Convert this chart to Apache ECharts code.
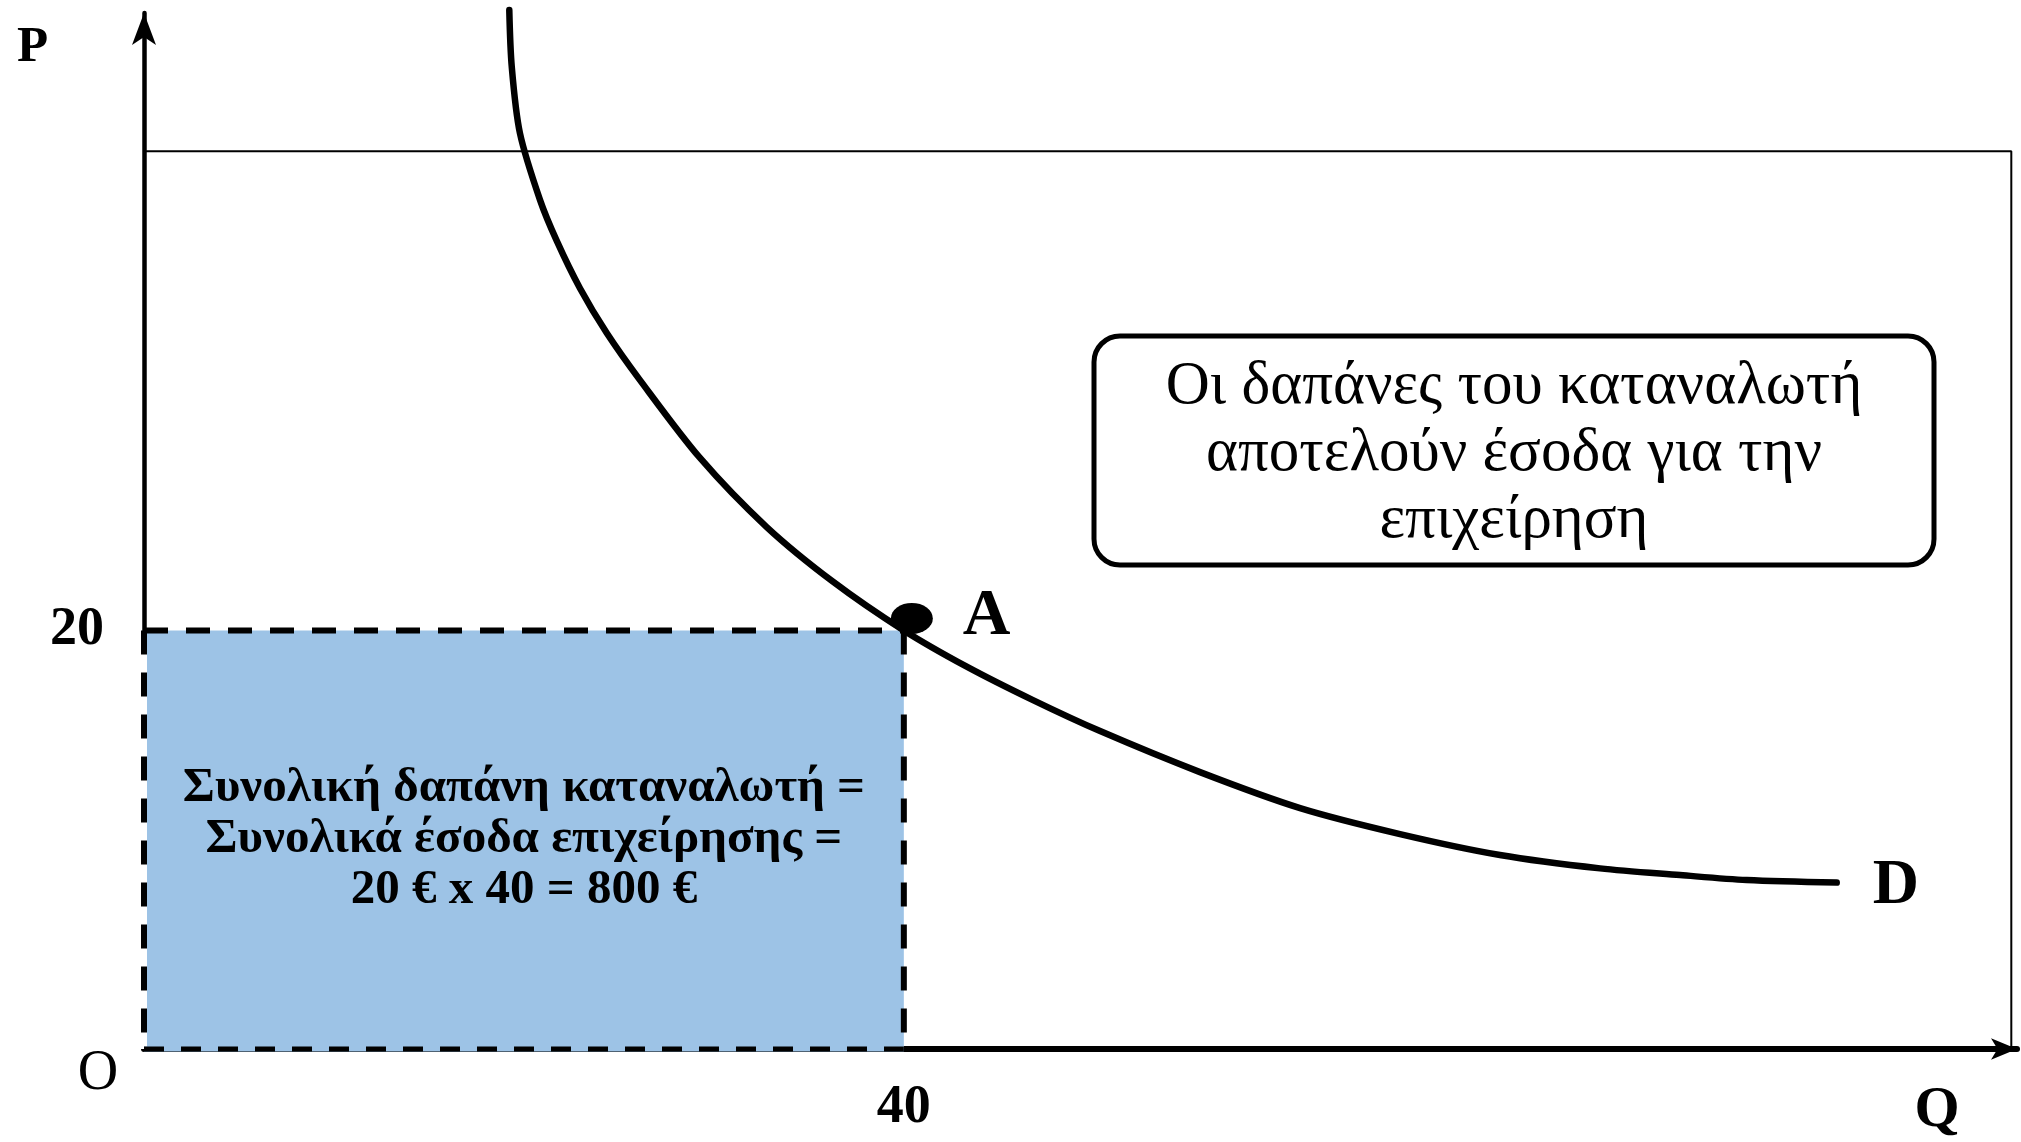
<!DOCTYPE html>
<html>
<head>
<meta charset="utf-8">
<script src="https://cdn.jsdelivr.net/npm/echarts@6/dist/echarts.min.js"></script>
<style>
  html, body { margin: 0; padding: 0; background: #ffffff; }
  #chart { width: 2021px; height: 1142px; }
</style>
</head>
<body>
<div id="chart"></div>
<script>
// Demand curve D: quantity (Q) and price (P) pairs
const demandQ = [19.23, 19.36, 19.79, 20.85, 21.73, 22.95, 24.36, 26.11, 29.27, 32.78, 36.27, 40,
                 43.31, 46.8, 50.33, 55.59, 60.86, 66.12, 71.38, 76.65, 80.86, 84.37, 89.11];
const demandP = [49.64, 46.93, 43.76, 40.56, 38.61, 36.35, 34.21, 31.96, 28.24, 24.94, 22.33, 20,
                 18.27, 16.67, 15.19, 13.23, 11.51, 10.27, 9.27, 8.63, 8.31, 8.07, 7.95];

// Point A on the demand curve: [quantity, price]
const pointA = [40, 20];

// Tick labels shown on each axis
const qTicks = [40];
const pTicks = [20];

// Axis extents and the thin plot frame
const qMax = 98.6;
const pMax = 49.5;
const frameQ = 98.3;
const frameP = 42.9;

// Texts
const boxLines = ['Οι δαπάνες του καταναλωτή', 'αποτελούν έσοδα για την', 'επιχείρηση'];
const areaLines = [
  'Συνολική δαπάνη καταναλωτή =',
  'Συνολικά έσοδα επιχείρησης =',
  pointA[1] + ' € x ' + pointA[0] + ' = ' + (pointA[0] * pointA[1]) + ' €'
];

const SERIF = "'Liberation Serif', 'DejaVu Serif', serif";
const BLUE = '#9DC3E6';

const chart = echarts.init(document.getElementById('chart'), null, { renderer: 'canvas' });

// Total-expenditure rectangle under point A, with dashed outline and caption
function renderArea(params, api) {
  const tl = api.coord([api.value(0), api.value(1)]);
  const br = api.coord([api.value(2), api.value(3)]);
  const x = tl[0], y = tl[1], w = br[0] - tl[0], h = br[1] - tl[1];
  const dash = { stroke: '#000', lineWidth: 6, lineDash: [24, 18] };
  return {
    type: 'group',
    children: [
      { type: 'rect', shape: { x: x, y: y, width: w, height: h }, style: { fill: BLUE } },
      // gaps of the left and bottom edges show through over the axis lines
      { type: 'line', shape: { x1: x, y1: y + 3, x2: x, y2: y + h }, style: { stroke: '#fff', lineWidth: 6 } },
      { type: 'line', shape: { x1: x, y1: y + h, x2: x + w, y2: y + h }, style: { stroke: BLUE, lineWidth: 5 } },
      { type: 'line', shape: { x1: x, y1: y, x2: x + w, y2: y }, style: dash },
      { type: 'line', shape: { x1: x + w, y1: y, x2: x + w, y2: y + h }, style: dash },
      { type: 'line', shape: { x1: x, y1: y, x2: x, y2: y + h }, style: dash },
      { type: 'line', shape: { x1: x, y1: y + h, x2: x + w, y2: y + h }, style: { stroke: '#000', lineWidth: 5, lineDash: [20, 17] } },
      {
        type: 'text',
        x: x + w / 2,
        y: y + h / 2,
        style: {
          text: areaLines.join('\n'),
          fill: '#000',
          font: 'bold 49px ' + SERIF,
          lineHeight: 51,
          align: 'center',
          verticalAlign: 'middle'
        }
      }
    ]
  };
}

const option = {
  animation: false,
  backgroundColor: '#ffffff',
  grid: { left: 144, right: 4, top: 13, bottom: 93 },
  xAxis: {
    type: 'value',
    min: 0,
    max: qMax,
    splitLine: { show: false },
    axisTick: { show: false },
    axisLine: {
      show: true,
      onZero: false,
      symbol: ['none', 'arrow'],
      symbolSize: [16, 26],
      lineStyle: { color: '#000', width: 6 }
    },
    axisLabel: {
      customValues: qTicks,
      color: '#000',
      fontFamily: SERIF,
      fontWeight: 'bold',
      fontSize: 54,
      margin: 32
    }
  },
  yAxis: {
    type: 'value',
    min: 0,
    max: pMax,
    splitLine: { show: false },
    axisTick: { show: false },
    axisLine: {
      show: true,
      onZero: false,
      symbol: ['none', 'arrow'],
      symbolSize: [18, 32],
      lineStyle: { color: '#000', width: 4.5 }
    },
    axisLabel: {
      customValues: pTicks,
      color: '#000',
      fontFamily: SERIF,
      fontWeight: 'bold',
      fontSize: 54,
      margin: 40
    }
  },
  series: [
    {
      // thin frame around the plotting region
      type: 'line',
      data: [[0, frameP], [frameQ, frameP], [frameQ, 0]],
      showSymbol: false,
      symbol: 'none',
      lineStyle: { color: '#000', width: 2 },
      silent: true,
      z: 1
    },
    {
      type: 'custom',
      renderItem: renderArea,
      data: [[0, pointA[1], pointA[0], 0]],
      clip: false,
      silent: true,
      z: 3
    },
    {
      name: 'D',
      type: 'line',
      data: demandQ.map(function (q, i) { return [q, demandP[i]]; }),
      smooth: 0.3,
      showSymbol: false,
      symbol: 'none',
      clip: false,
      lineStyle: { color: '#000', width: 6.5, cap: 'round' },
      endLabel: {
        show: true,
        formatter: 'D',
        color: '#000',
        fontFamily: SERIF,
        fontWeight: 'bold',
        fontSize: 64,
        distance: 36,
        offset: [0, 4]
      },
      z: 4
    },
    {
      type: 'scatter',
      data: [pointA],
      symbol: 'circle',
      symbolSize: [42, 31],
      symbolOffset: [8, -12],
      itemStyle: { color: '#000', opacity: 1 },
      label: {
        show: true,
        formatter: 'A',
        position: 'right',
        distance: 30,
        offset: [0, -1],
        color: '#000',
        fontFamily: SERIF,
        fontWeight: 'bold',
        fontSize: 66
      },
      z: 5
    }
  ],
  graphic: [
    {
      type: 'text',
      left: 17, top: 22,
      style: { text: 'P', font: 'bold 51px ' + SERIF, fill: '#000' }
    },
    {
      type: 'text',
      x: 1937, y: 1111,
      style: { text: 'Q', font: 'bold 58px ' + SERIF, fill: '#000', align: 'center', verticalAlign: 'middle' }
    },
    {
      type: 'text',
      x: 98, y: 1074,
      style: { text: 'O', font: '56px ' + SERIF, fill: '#000', align: 'center', verticalAlign: 'middle' }
    },
    {
      type: 'group',
      x: 1094, y: 336,
      children: [
        {
          type: 'rect',
          shape: { x: 0, y: 0, width: 840, height: 229, r: 26 },
          style: { fill: '#fff', stroke: '#000', lineWidth: 5 }
        },
        {
          type: 'text',
          x: 420, y: 118,
          style: {
            text: boxLines.join('\n'),
            font: '61px ' + SERIF,
            lineHeight: 67,
            fill: '#000',
            align: 'center',
            verticalAlign: 'middle'
          }
        }
      ]
    }
  ]
};

chart.setOption(option);
</script>
</body>
</html>
